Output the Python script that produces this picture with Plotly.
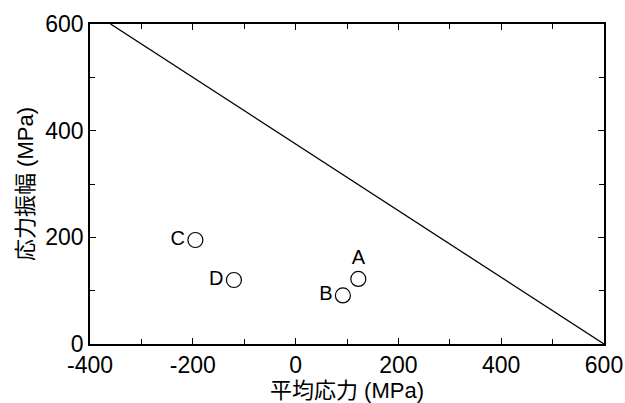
import plotly.graph_objects as go

# Data
point_labels = ["A", "B", "C", "D"]
mean_stress = [122, 92, -195, -120]
stress_amp = [122, 91, 195, 120]
label_pos = ["top center", "middle left", "middle left", "middle left"]

line_x = [-360, 600]
line_y = [600, 0]

x_tickvals = [-400, -200, 0, 200, 400, 600]
x_ticktext = ["-400", "-200", "0", "200", "400", "600"]
y_tickvals = [0, 200, 400, 600]
y_ticktext = ["0", "200", "400", "600"]

fig = go.Figure()
fig.add_trace(go.Scatter(x=line_x, y=line_y, mode="lines",
                         line=dict(color="black", width=1.3), showlegend=False))
fig.add_trace(go.Scatter(x=mean_stress, y=stress_amp, mode="markers+text",
                         text=point_labels, textposition=label_pos,
                         textfont=dict(family="Liberation Sans, Arial", size=20, color="black"),
                         marker=dict(symbol="circle-open", size=15, color="black",
                                     line=dict(width=1.2, color="black")),
                         showlegend=False, cliponaxis=False))

axis_common = dict(showgrid=False, zeroline=False, showline=True, linecolor="black",
                   linewidth=1.5, mirror="ticks", ticks="inside", ticklen=6,
                   tickwidth=1.2, tickcolor="black", automargin=False,
                   tickfont=dict(family="Liberation Sans, Arial", size=23, color="black"),
                   minor=dict(ticks="inside", ticklen=5, tickwidth=1.2, tickcolor="black",
                              dtick=100))

title_font = dict(family="Liberation Sans, Noto Sans CJK JP", size=22, color="black")

fig.update_xaxes(range=[-400, 600], tickvals=x_tickvals, ticktext=x_ticktext,
                 title=dict(text="平均応力 (MPa)", standoff=0, font=title_font),
                 **axis_common)
fig.update_yaxes(range=[0, 600], tickvals=y_tickvals, ticktext=y_ticktext,
                 title=dict(text="応力振幅 (MPa)", standoff=6, font=title_font),
                 **axis_common)

fig.update_layout(width=625, height=403, margin=dict(l=90, r=21, t=24, b=59),
                  plot_bgcolor="white", paper_bgcolor="white")

# remove the default page margin so the figure fills the window exactly
fig.write_html("out.html", config={"displayModeBar": False},
               post_script="document.body.style.margin='0';document.body.style.overflow='hidden';")
